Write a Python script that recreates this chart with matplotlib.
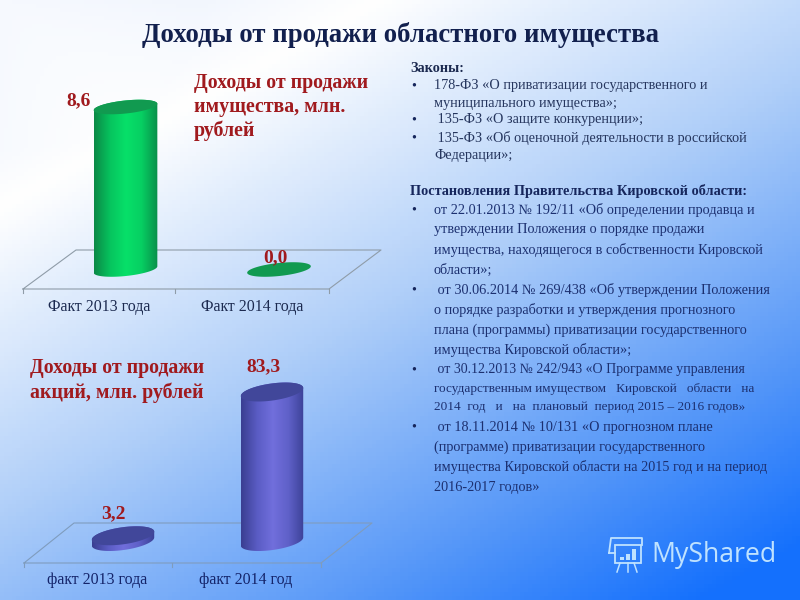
import numpy as np
import matplotlib
matplotlib.use('Agg')
import matplotlib.pyplot as plt
from matplotlib.colors import LinearSegmentedColormap
from matplotlib.patches import Polygon, Rectangle

plt.rcParams['font.family'] = ['Liberation Serif', 'DejaVu Serif']

# data
title = 'Доходы от продажи областного имущества'
cats1 = ['Факт 2013 года', 'Факт 2014 года']
vals1 = [8.6, 0.0]
labels1 = ['8,6', '0,0']
head1 = ['Доходы от продажи', 'имущества, млн.', 'рублей']

cats2 = ['факт 2013 года', 'факт 2014 год']
vals2 = [3.2, 83.3]
labels2 = ['3,2', '83,3']
head2 = ['Доходы от продажи', 'акций, млн. рублей']

laws_head = 'Законы:'
laws = ['178-ФЗ «О приватизации государственного и',
        'муниципального имущества»;',
        ' 135-ФЗ «О защите конкуренции»;',
        ' 135-ФЗ «Об оценочной деятельности в российской',
        'Федерации»;']
laws_bullets = [True, False, True, True, False]

decr_head = 'Постановления Правительства Кировской области:'
decrees = ['от 22.01.2013 № 192/11 «Об определении продавца и',
           'утверждении Положения о порядке продажи',
           'имущества, находящегося в собственности Кировской',
           'области»;',
           ' от 30.06.2014 № 269/438 «Об утверждении Положения',
           'о порядке разработки и утверждения прогнозного',
           'плана (программы) приватизации государственного',
           'имущества Кировской области»;',
           ' от 30.12.2013 № 242/943 «О Программе управления',
           'государственным имуществом   Кировской   области   на',
           '2014  год   и   на  плановый  период 2015 – 2016 годов»',
           ' от 18.11.2014 № 10/131 «О прогнозном плане',
           '(программе) приватизации государственного',
           'имущества Кировской области на 2015 год и на период',
           '2016-2017 годов»']
decr_bullets = [True, False, False, False, True, False, False, False,
                True, False, False, True, False, False, False]
decr_y = [210, 230, 250, 270, 290, 310, 330, 350, 370, 389, 407, 427, 447, 467, 487]
laws_y = [86, 103, 120, 138, 155]

RED = '#a01a1e'
NAVY = '#16265c'
BODY = 10.3
# the 242/943 paragraph is set a little smaller in the picture
small = {8: 10.0, 9: 9.5, 10: 9.55}

fig = plt.figure(figsize=(8, 6), dpi=100)

# background, pixel coordinates
bg = fig.add_axes([0, 0, 1, 1])
bg.set_xlim(0, 800)
bg.set_ylim(600, 0)
bg.axis('off')

xx, yy = np.meshgrid(np.linspace(0, 1, 200), np.linspace(0, 1, 150))
t = 0.62 * xx + 0.85 * yy + 0.2 * np.clip(1 - np.hypot(xx, yy) / 0.25, 0, 1)
bg_cmap = LinearSegmentedColormap.from_list('bg', [(0, '#e8f0fd'), (0.18, '#ffffff'),
                                                   (0.5, '#b0cff9'), (0.78, '#5c9bf8'),
                                                   (1, '#1470fd')])
bg.imshow(t, extent=[0, 800, 600, 0], cmap=bg_cmap, vmin=0.05, vmax=1.4, aspect='auto')
bg.set_xlim(0, 800)
bg.set_ylim(600, 0)


def floor(x0, x1, x2, dx, y0, y1, col):
    bg.plot([x0, x2, x2 + dx[0], x0 + dx[1], x0], [y0, y0, y1, y1, y0], color=col, lw=0.8)
    for x in [x0, x1, x2]:
        bg.plot([x, x], [y0, y0 + 4], color=col, lw=0.8)


floor(23, 175, 329, (52, 53), 289, 250, '#8f9ca8')
floor(24, 172, 321, (51, 50), 563, 523, '#7f9cbd')


def bar_axes(box, x_anchor, y_anchor):
    # box in pixels (left, top, right, bottom), anchors fix the data scale
    left, top, right, bottom = box
    ax = fig.add_axes([left / 800, 1 - bottom / 600, (right - left) / 800, (bottom - top) / 600])
    ax.patch.set_alpha(0)
    ax.axis('off')
    sx = x_anchor[1] - x_anchor[0]
    sy = (y_anchor[0] - y_anchor[1]) / y_anchor[2]
    ax.set_xlim((left - x_anchor[0]) / sx, (right - x_anchor[0]) / sx)
    ax.set_ylim((y_anchor[0] - bottom) / sy, (y_anchor[0] - top) / sy)
    return ax, sx, sy


def ell(cx, cy, a, b, th, sx, sy, t):
    x = a * np.cos(t) * np.cos(th) - b * np.sin(t) * np.sin(th)
    y = a * np.cos(t) * np.sin(th) + b * np.sin(t) * np.cos(th)
    return cx + x / sx, cy + y / sy


def cylinders(ax, vals, sx, sy, a, b, deg, cols, top_col):
    th = np.radians(deg)
    cmap = LinearSegmentedColormap.from_list('c', cols)
    t0 = np.arctan2(-b * np.sin(th), a * np.cos(th))
    upper = np.linspace(t0, t0 + np.pi, 60)
    lower = np.linspace(t0 + np.pi, t0 + 2 * np.pi, 60)
    xlim, ylim = ax.get_xlim(), ax.get_ylim()
    for i, v in enumerate(vals):
        if v > 0:
            xu, yu = ell(i, v, a, b, th, sx, sy, upper)
            xl, yl = ell(i, 0, a, b, th, sx, sy, lower)
            poly = Polygon(np.column_stack([np.r_[xu, xl], np.r_[yu, yl]]), closed=True,
                           transform=ax.transData, fc='none', ec='none')
            ax.add_patch(poly)
            im = ax.imshow(np.linspace(0, 1, 64)[None, :], cmap=cmap, aspect='auto',
                           extent=[i - a / sx, i + a / sx, yl.min(), yu.max()], zorder=2)
            im.set_clip_path(poly)
        xe, ye = ell(i, v, a, b, th, sx, sy, np.linspace(0, 2 * np.pi, 120))
        ax.fill(xe, ye, color=top_col, zorder=3, lw=0)
    ax.set_xlim(xlim)
    ax.set_ylim(ylim)


# chart 1
ax1, sx1, sy1 = bar_axes((23, 60, 381, 295), (125.5, 279), (269.5, 107, 8.6))
cylinders(ax1, vals1, sx1, sy1, 32, 6.5, 6,
          ['#0b8a47', '#06c45e', '#07e069', '#06cf62', '#0a8f4a'], '#119a50')
off1 = [(-47, 6), (-4, 12)]
for i, v in enumerate(vals1):
    ax1.annotate(labels1[i], (i, v), xytext=off1[i], textcoords='offset pixels',
                 ha='center', va='center', fontsize=14, fontweight='bold', color=RED, zorder=5)

# chart 2
ax2, sx2, sy2 = bar_axes((24, 360, 372, 567), (123, 272), (541.5, 392, 83.3))
cylinders(ax2, vals2, sx2, sy2, 31.5, 8.5, 8,
          ['#3a3f92', '#5a5cc4', '#716fdc', '#5f60c8', '#3b4096'], '#41479a')
off2 = [(-10, 22), (-9, 25)]
for i, v in enumerate(vals2):
    ax2.annotate(labels2[i], (i, v), xytext=off2[i], textcoords='offset pixels',
                 ha='center', va='center', fontsize=14, fontweight='bold', color=RED, zorder=5)

# category labels
for x, s in zip([99, 252], cats1):
    bg.text(x, 307, s, ha='center', va='center', fontsize=11.4, color='#1c2a50')
for x, s in zip([97, 246], cats2):
    bg.text(x, 580, s, ha='center', va='center', fontsize=11.4, color='#14246a')

# headings
bg.text(400, 35, title, ha='center', va='center', fontsize=19.3, fontweight='bold', color='#12204e')
for y, s in zip([83, 107, 131], head1):
    bg.text(194, y, s, ha='left', va='center', fontsize=14.3, fontweight='bold', color=RED)
for y, s in zip([368, 393], head2):
    bg.text(30, y, s, ha='left', va='center', fontsize=14.3, fontweight='bold', color=RED)

# right column
bg.text(410, 68, laws_head, ha='left', va='center', fontsize=BODY, fontweight='bold', color='#1c2a50')
for y, s, b in zip(laws_y, laws, laws_bullets):
    if b:
        bg.text(411, y, '•', ha='left', va='center', fontsize=BODY, color=NAVY)
    bg.text(434, y, s, ha='left', va='center', fontsize=BODY, color='#26365e')
bg.text(410, 191, decr_head, ha='left', va='center', fontsize=BODY, fontweight='bold', color=NAVY)
for i, (y, s, b) in enumerate(zip(decr_y, decrees, decr_bullets)):
    if b:
        bg.text(411, y, '•', ha='left', va='center', fontsize=BODY, color=NAVY)
    bg.text(434, y, s, ha='left', va='center', fontsize=small.get(i, BODY), color='#1c3070')

# watermark
WM = '#bfe2ff'
bg.text(651, 555, 'MyShared', ha='left', va='center', fontsize=19.2, color=WM, family='Open Sans')
bg.add_patch(Rectangle((615, 545), 26, 18, fc='none', ec=WM, lw=1.3))
bg.plot([609, 611, 642, 642], [553, 538, 538, 545], color=WM, lw=1.3)
bg.plot([609, 615], [553, 553], color=WM, lw=1.3)
for x0, x1 in [(620, 617), (628, 628), (634, 637)]:
    bg.plot([x0, x1], [563, 572], color=WM, lw=1.1)
bg.bar([622, 628, 634], [-3, -6, -11], bottom=560, width=3.5, color=WM)
bg.set_xlim(0, 800)
bg.set_ylim(600, 0)

fig.savefig('out.png', dpi=100)
